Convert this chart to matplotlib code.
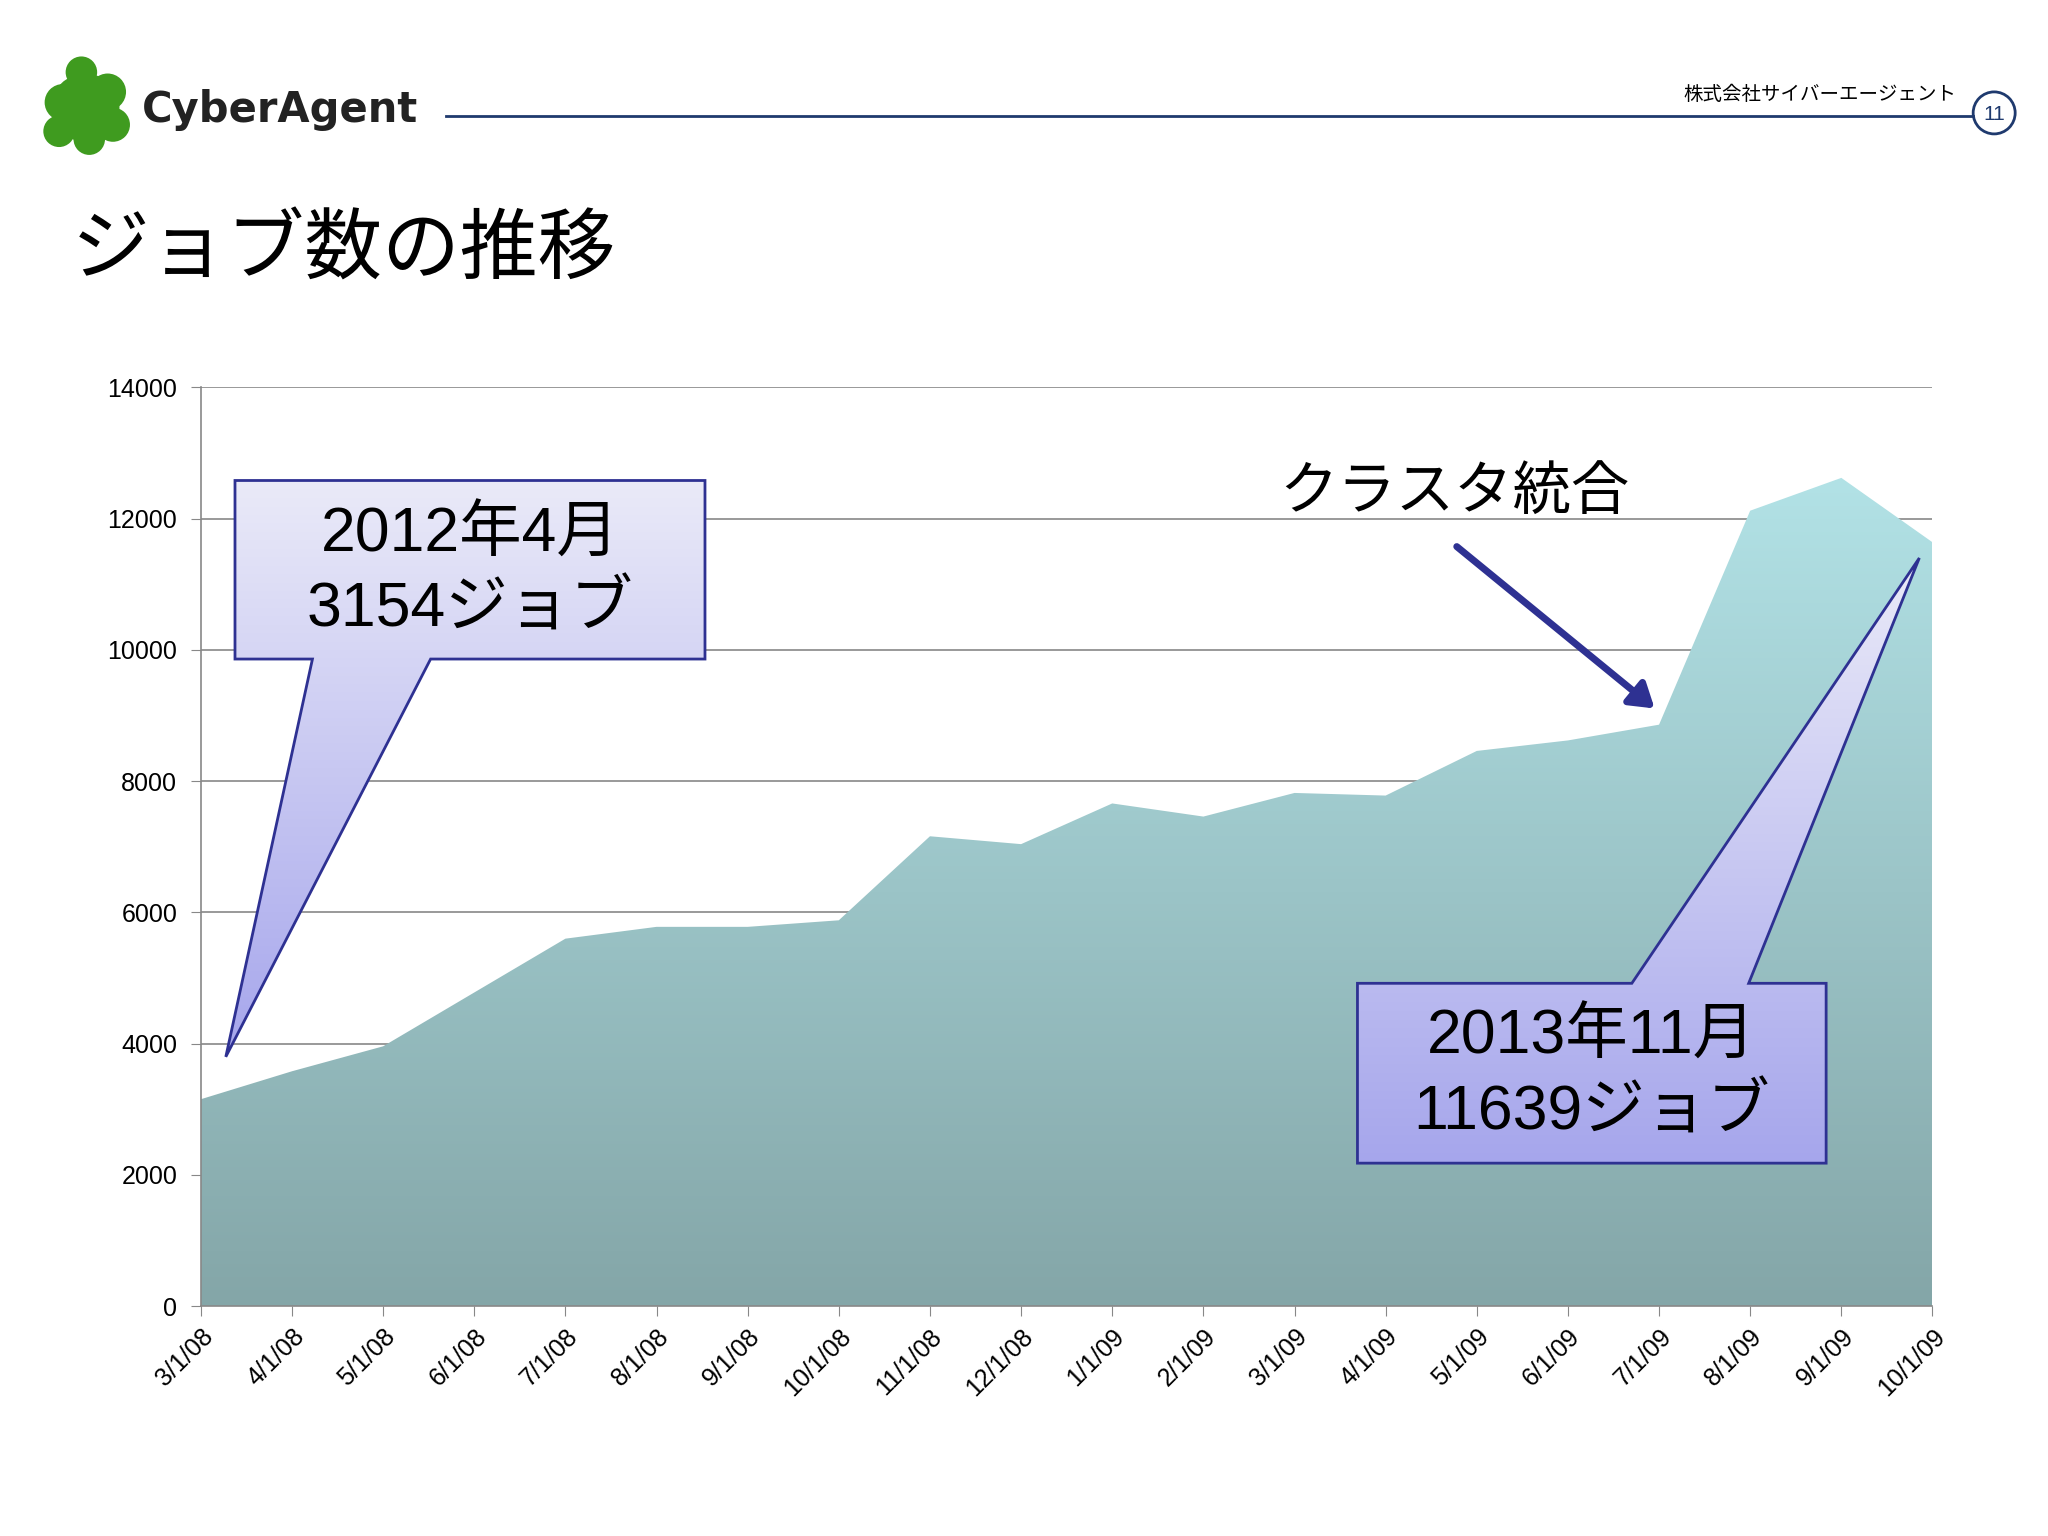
import numpy as np
import matplotlib
matplotlib.use("Agg")
import matplotlib.pyplot as plt
from matplotlib.patches import Polygon, Circle, FancyArrowPatch

plt.rcParams['font.family'] = ['Liberation Sans', 'Noto Sans CJK JP', 'DejaVu Sans']
CJK = ['Noto Sans CJK JP', 'DejaVu Sans']

dates = ["3/1/08", "4/1/08", "5/1/08", "6/1/08", "7/1/08", "8/1/08", "9/1/08",
         "10/1/08", "11/1/08", "12/1/08", "1/1/09", "2/1/09", "3/1/09", "4/1/09",
         "5/1/09", "6/1/09", "7/1/09", "8/1/09", "9/1/09", "10/1/09"]
jobs = [3154, 3580, 3960, 4780, 5600, 5780, 5780, 5880, 7160, 7040,
        7660, 7460, 7820, 7780, 8460, 8620, 8860, 12120, 12620, 11639]
yticks = [0, 2000, 4000, 6000, 8000, 10000, 12000, 14000]

W, H = 1560, 1170  # layout grid in reference display px
fig = plt.figure(figsize=(20.48, 15.36), dpi=100)
ax = fig.add_axes([153 / W, 1 - 995 / H, (1472 - 153) / W, (995 - 295) / H])

x = np.arange(len(jobs))
ax.set_xlim(0, len(jobs) - 1)
ax.set_ylim(0, 14000)
poly = ax.fill_between(x, jobs, 0, color="none")
grad = np.linspace(1, 0, 256).reshape(-1, 1)
cmap = matplotlib.colors.LinearSegmentedColormap.from_list("g", ["#84a6a8", "#b2e2e6"])
im = ax.imshow(grad[::-1], extent=[0, len(jobs) - 1, 0, max(jobs)], origin="lower",
               aspect="auto", cmap=cmap, zorder=2)
path = poly.get_paths()[0]
im.set_clip_path(path, transform=ax.transData)
ax.set_yticks(yticks)
ax.set_yticklabels([str(v) for v in yticks], fontsize=18)
ax.grid(axis="y", color="#888888", lw=1.2, zorder=1)
ax.set_xticks(x)
ax.set_xticklabels(dates, rotation=45, ha="right", rotation_mode="anchor", fontsize=18)
ax.tick_params(axis="x", length=7, color="#888888", pad=6)
ax.tick_params(axis="y", length=7, color="#888888", pad=10)
for s in ["top", "right"]:
    ax.spines[s].set_visible(False)
for s in ["left", "bottom"]:
    ax.spines[s].set_color("#888888")
    ax.spines[s].set_linewidth(1.2)

# overlay in px coords
ov = fig.add_axes([0, 0, 1, 1], facecolor="none")
ov.set_xlim(0, W)
ov.set_ylim(H, 0)
ov.axis("off")


def callout(pts, y0, y1, text, tx, ty):
    cm = matplotlib.colors.LinearSegmentedColormap.from_list("c", ["#eaeaf8", "#a6a6ec"])
    img = ov.imshow(np.linspace(0, 1, 256).reshape(-1, 1), extent=[0, W, y1, y0],
                    cmap=cm, aspect="auto", zorder=5)
    p = Polygon(pts, closed=True, fc="none", ec="#2e3192", lw=2, zorder=6)
    ov.add_patch(p)
    img.set_clip_path(p)
    ov.text(tx, ty, text, ha="center", va="center", fontsize=45, linespacing=1.35, zorder=7)


callout([(179, 366), (537, 366), (537, 502), (328, 502), (172, 805), (238, 502), (179, 502)],
        366, 805, "2012年4月\n3154ジョブ", 358, 436)
callout([(1034, 749), (1243, 749), (1462, 425), (1332, 749), (1391, 749), (1391, 886), (1034, 886)],
        425, 886, "2013年11月\n11639ジョブ", 1212, 819)
ov.set_xlim(0, W)
ov.set_ylim(H, 0)

ov.add_patch(FancyArrowPatch((1108, 415), (1262, 541), arrowstyle="-|>,head_length=14,head_width=9",
                             color="#2e3192", lw=5, zorder=8))
ov.text(1108, 375, "クラスタ統合", ha="center", va="center", fontsize=42, family=CJK)

# header
ov.text(55, 192, "ジョブ数の推移", ha="left", va="center", fontsize=56, family=CJK)
ov.plot([340, 1503], [88, 88], color="#1f3a6e", lw=2)
ov.text(1490, 72, "株式会社サイバーエージェント", ha="right", va="center", fontsize=14, family=CJK)
ov.add_patch(Circle((1519, 86), 16, fc="white", ec="#1f3a6e", lw=2))
ov.text(1519, 87, "11", ha="center", va="center", fontsize=15, color="#1f3a6e")
for cx, cy, r in [(65, 82, 26), (48, 78, 14), (82, 70, 14), (62, 55, 12), (86, 95, 13),
                  (45, 100, 12), (68, 106, 12)]:
    ov.add_patch(Circle((cx, cy), r, fc="#3f9b1f", ec="none"))
ov.text(108, 84, "CyberAgent", ha="left", va="center", fontsize=30, fontweight="bold",
        color="#222222", family="DejaVu Sans")

fig.savefig("out.png", dpi=100)
